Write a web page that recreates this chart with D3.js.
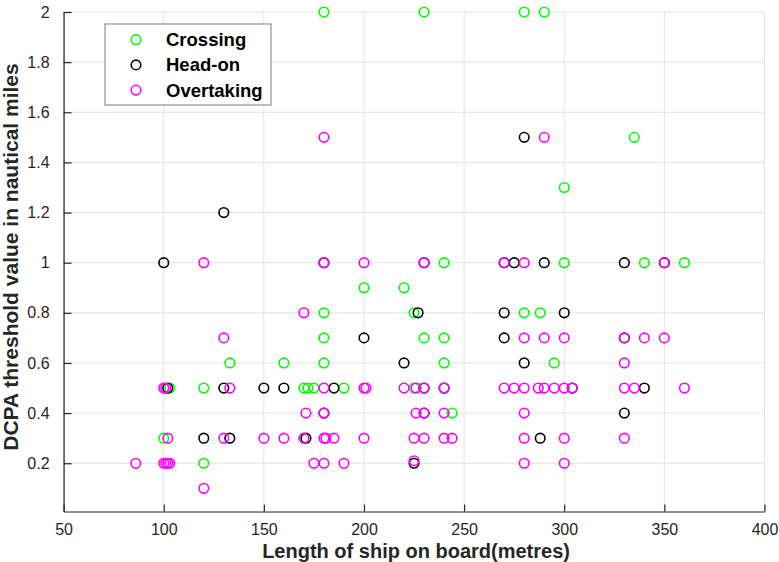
<!DOCTYPE html>
<html>
<head>
    <meta charset="utf-8">
    <title>DCPA scatter</title>
    <script src="https://d3js.org/d3.v7.min.js"></script>
    <style>
        body { margin: 0; background: #fff; }
    </style>
</head>
<body>
<div id="chart"></div>
<script type="text/javascript">

    // dados
    let crossingX = [180, 230, 280, 290, 335, 300, 240, 300, 340, 360, 200, 220, 180, 225, 280, 288,
                     180, 230, 240, 133, 160, 180, 240, 295, 103, 120, 170, 172, 175, 190, 225, 244, 100, 120];
    let crossingY = [2, 2, 2, 2, 1.5, 1.3, 1, 1, 1, 1, 0.9, 0.9, 0.8, 0.8, 0.8, 0.8,
                     0.7, 0.7, 0.7, 0.6, 0.6, 0.6, 0.6, 0.6, 0.5, 0.5, 0.5, 0.5, 0.5, 0.5, 0.5, 0.4, 0.3, 0.2];

    let headonX = [280, 130, 100, 180, 230, 270, 275, 290, 330, 350, 227, 270, 300, 200, 270, 330, 220, 280,
                   102, 130, 150, 160, 185, 230, 240, 304, 340, 180, 230, 330, 120, 133, 171, 288, 225];
    let headonY = [1.5, 1.2, 1, 1, 1, 1, 1, 1, 1, 1, 0.8, 0.8, 0.8, 0.7, 0.7, 0.7, 0.6, 0.6,
                   0.5, 0.5, 0.5, 0.5, 0.5, 0.5, 0.5, 0.5, 0.5, 0.4, 0.4, 0.4, 0.3, 0.3, 0.3, 0.3, 0.2];

    let overtakingX = [180, 290, 120, 180, 200, 230, 270, 280, 350, 170,
                       130, 280, 290, 300, 330, 340, 350, 330,
                       100, 101, 133, 180, 200, 201, 220, 226, 230, 240, 270, 275, 280, 287, 290, 295, 300, 304, 330, 335, 360,
                       171, 180, 226, 230, 240, 280,
                       102, 130, 150, 160, 170, 180, 181, 185, 200, 225, 230, 240, 244, 280, 300, 330,
                       86, 100, 101, 102, 103, 175, 180, 190, 225, 280, 300, 120];
    let overtakingY = [1.5, 1.5, 1, 1, 1, 1, 1, 1, 1, 0.8,
                       0.7, 0.7, 0.7, 0.7, 0.7, 0.7, 0.7, 0.6,
                       0.5, 0.5, 0.5, 0.5, 0.5, 0.5, 0.5, 0.5, 0.5, 0.5, 0.5, 0.5, 0.5, 0.5, 0.5, 0.5, 0.5, 0.5, 0.5, 0.5, 0.5,
                       0.4, 0.4, 0.4, 0.4, 0.4, 0.4,
                       0.3, 0.3, 0.3, 0.3, 0.3, 0.3, 0.3, 0.3, 0.3, 0.3, 0.3, 0.3, 0.3, 0.3, 0.3, 0.3,
                       0.2, 0.2, 0.2, 0.2, 0.2, 0.2, 0.2, 0.2, 0.21, 0.2, 0.2, 0.1];

    let seriesNames = ["Crossing", "Head-on", "Overtaking"];
    let seriesColors = ["#00ff00", "#000000", "#ff00ff"];
    let xTicks = [50, 100, 150, 200, 250, 300, 350, 400];
    let yTicks = [0.2, 0.4, 0.6, 0.8, 1, 1.2, 1.4, 1.6, 1.8, 2];

    function render_scatter() {

        let margin = {top: 12, right: 14.5, bottom: 50.5, left: 63.6};
        let w = 779 - margin.left - margin.right;
        let h = 562 - margin.top - margin.bottom;
        let font = "'Liberation Sans', Arial, sans-serif";

        let svg = d3.select("#chart")
                .append("svg")
                    .attr("width", 779)
                    .attr("height", 562)
                .append("g")
                    .attr("transform", "translate(" + margin.left + "," + margin.top + ")");

        let xScale = d3.scaleLinear().domain([50, 400]).range([0, w]);
        let yScale = d3.scaleLinear().domain([0.0075, 2]).range([h, 0]);

        // grade
        svg.append("g").selectAll("line")
            .data(xTicks).enter().append("line")
            .attr("x1", d => xScale(d)).attr("x2", d => xScale(d))
            .attr("y1", 0).attr("y2", h)
            .attr("stroke", "#e3e3e3").attr("stroke-width", 1);
        svg.append("g").selectAll("line")
            .data(yTicks).enter().append("line")
            .attr("x1", 0).attr("x2", w)
            .attr("y1", d => yScale(d)).attr("y2", d => yScale(d))
            .attr("stroke", "#e3e3e3").attr("stroke-width", 1);

        let xAxis = d3.axisBottom(xScale).tickValues(xTicks)
                      .tickSizeInner(-7).tickSizeOuter(0).tickPadding(12)
                      .tickFormat(d3.format("d"));
        let yAxis = d3.axisLeft(yScale).tickValues(yTicks)
                      .tickSizeInner(-8).tickSizeOuter(0).tickPadding(14)
                      .tickFormat(d => String(+d.toFixed(1)));

        let gx = svg.append("g")
                .attr("transform", "translate(0," + h + ")")
                .call(xAxis);
        let gy = svg.append("g")
                .call(yAxis);

        [gx, gy].forEach(function(g) {
            g.select(".domain").attr("stroke", "#262626").attr("stroke-width", 1.2);
            g.selectAll(".tick line").attr("stroke", "#262626").attr("stroke-width", 1.2);
            g.selectAll(".tick text")
                .attr("fill", "#262626")
                .attr("font-family", font)
                .attr("font-size", "16px");
        });

        // pontos
        let series = [
            {x: crossingX, y: crossingY},
            {x: headonX, y: headonY},
            {x: overtakingX, y: overtakingY}
        ];
        series.forEach(function(s, i) {
            svg.append("g").selectAll("circle")
                .data(d3.range(s.x.length))
                .enter()
                .append("circle")
                .attr("cx", k => xScale(s.x[k]))
                .attr("cy", k => yScale(s.y[k]))
                .attr("r", 4.8)
                .attr("fill", "none")
                .attr("stroke", seriesColors[i])
                .attr("stroke-width", 1.6);
        });

        // rótulos dos eixos
        svg.append("text")
            .attr("x", xScale(225) + 2)
            .attr("y", h + 46)
            .style("text-anchor", "middle")
            .attr("font-family", font)
            .attr("font-weight", "bold")
            .attr("font-size", "20px")
            .attr("fill", "#262626")
            .text("Length of ship on board(metres)");

        svg.append("text")
            .attr("transform", "translate(" + (-46) + "," + (245) + ") rotate(-90)")
            .style("text-anchor", "middle")
            .attr("font-family", font)
            .attr("font-weight", "bold")
            .attr("font-size", "21px")
            .attr("fill", "#262626")
            .text("DCPA threshold value in nautical miles");

        // legenda
        let lg = svg.append("g").attr("transform", "translate(" + (105 - margin.left) + "," + (24 - margin.top) + ")");
        lg.append("rect")
            .attr("x", 0).attr("y", 0)
            .attr("width", 166).attr("height", 81)
            .attr("fill", "#fff")
            .attr("stroke", "#7a7a7a")
            .attr("stroke-width", 1);
        seriesNames.forEach(function(name, i) {
            let yy = 15.7 + i * 25.2;
            lg.append("circle")
                .attr("cx", 31).attr("cy", yy)
                .attr("r", 4.8)
                .attr("fill", "none")
                .attr("stroke", seriesColors[i])
                .attr("stroke-width", 1.6);
            lg.append("text")
                .attr("x", 61).attr("y", yy + 6.5)
                .attr("font-family", font)
                .attr("font-weight", "bold")
                .attr("font-size", "18.5px")
                .attr("fill", "#000")
                .text(name);
        });
    }

    render_scatter();

</script>
</body>
</html>
